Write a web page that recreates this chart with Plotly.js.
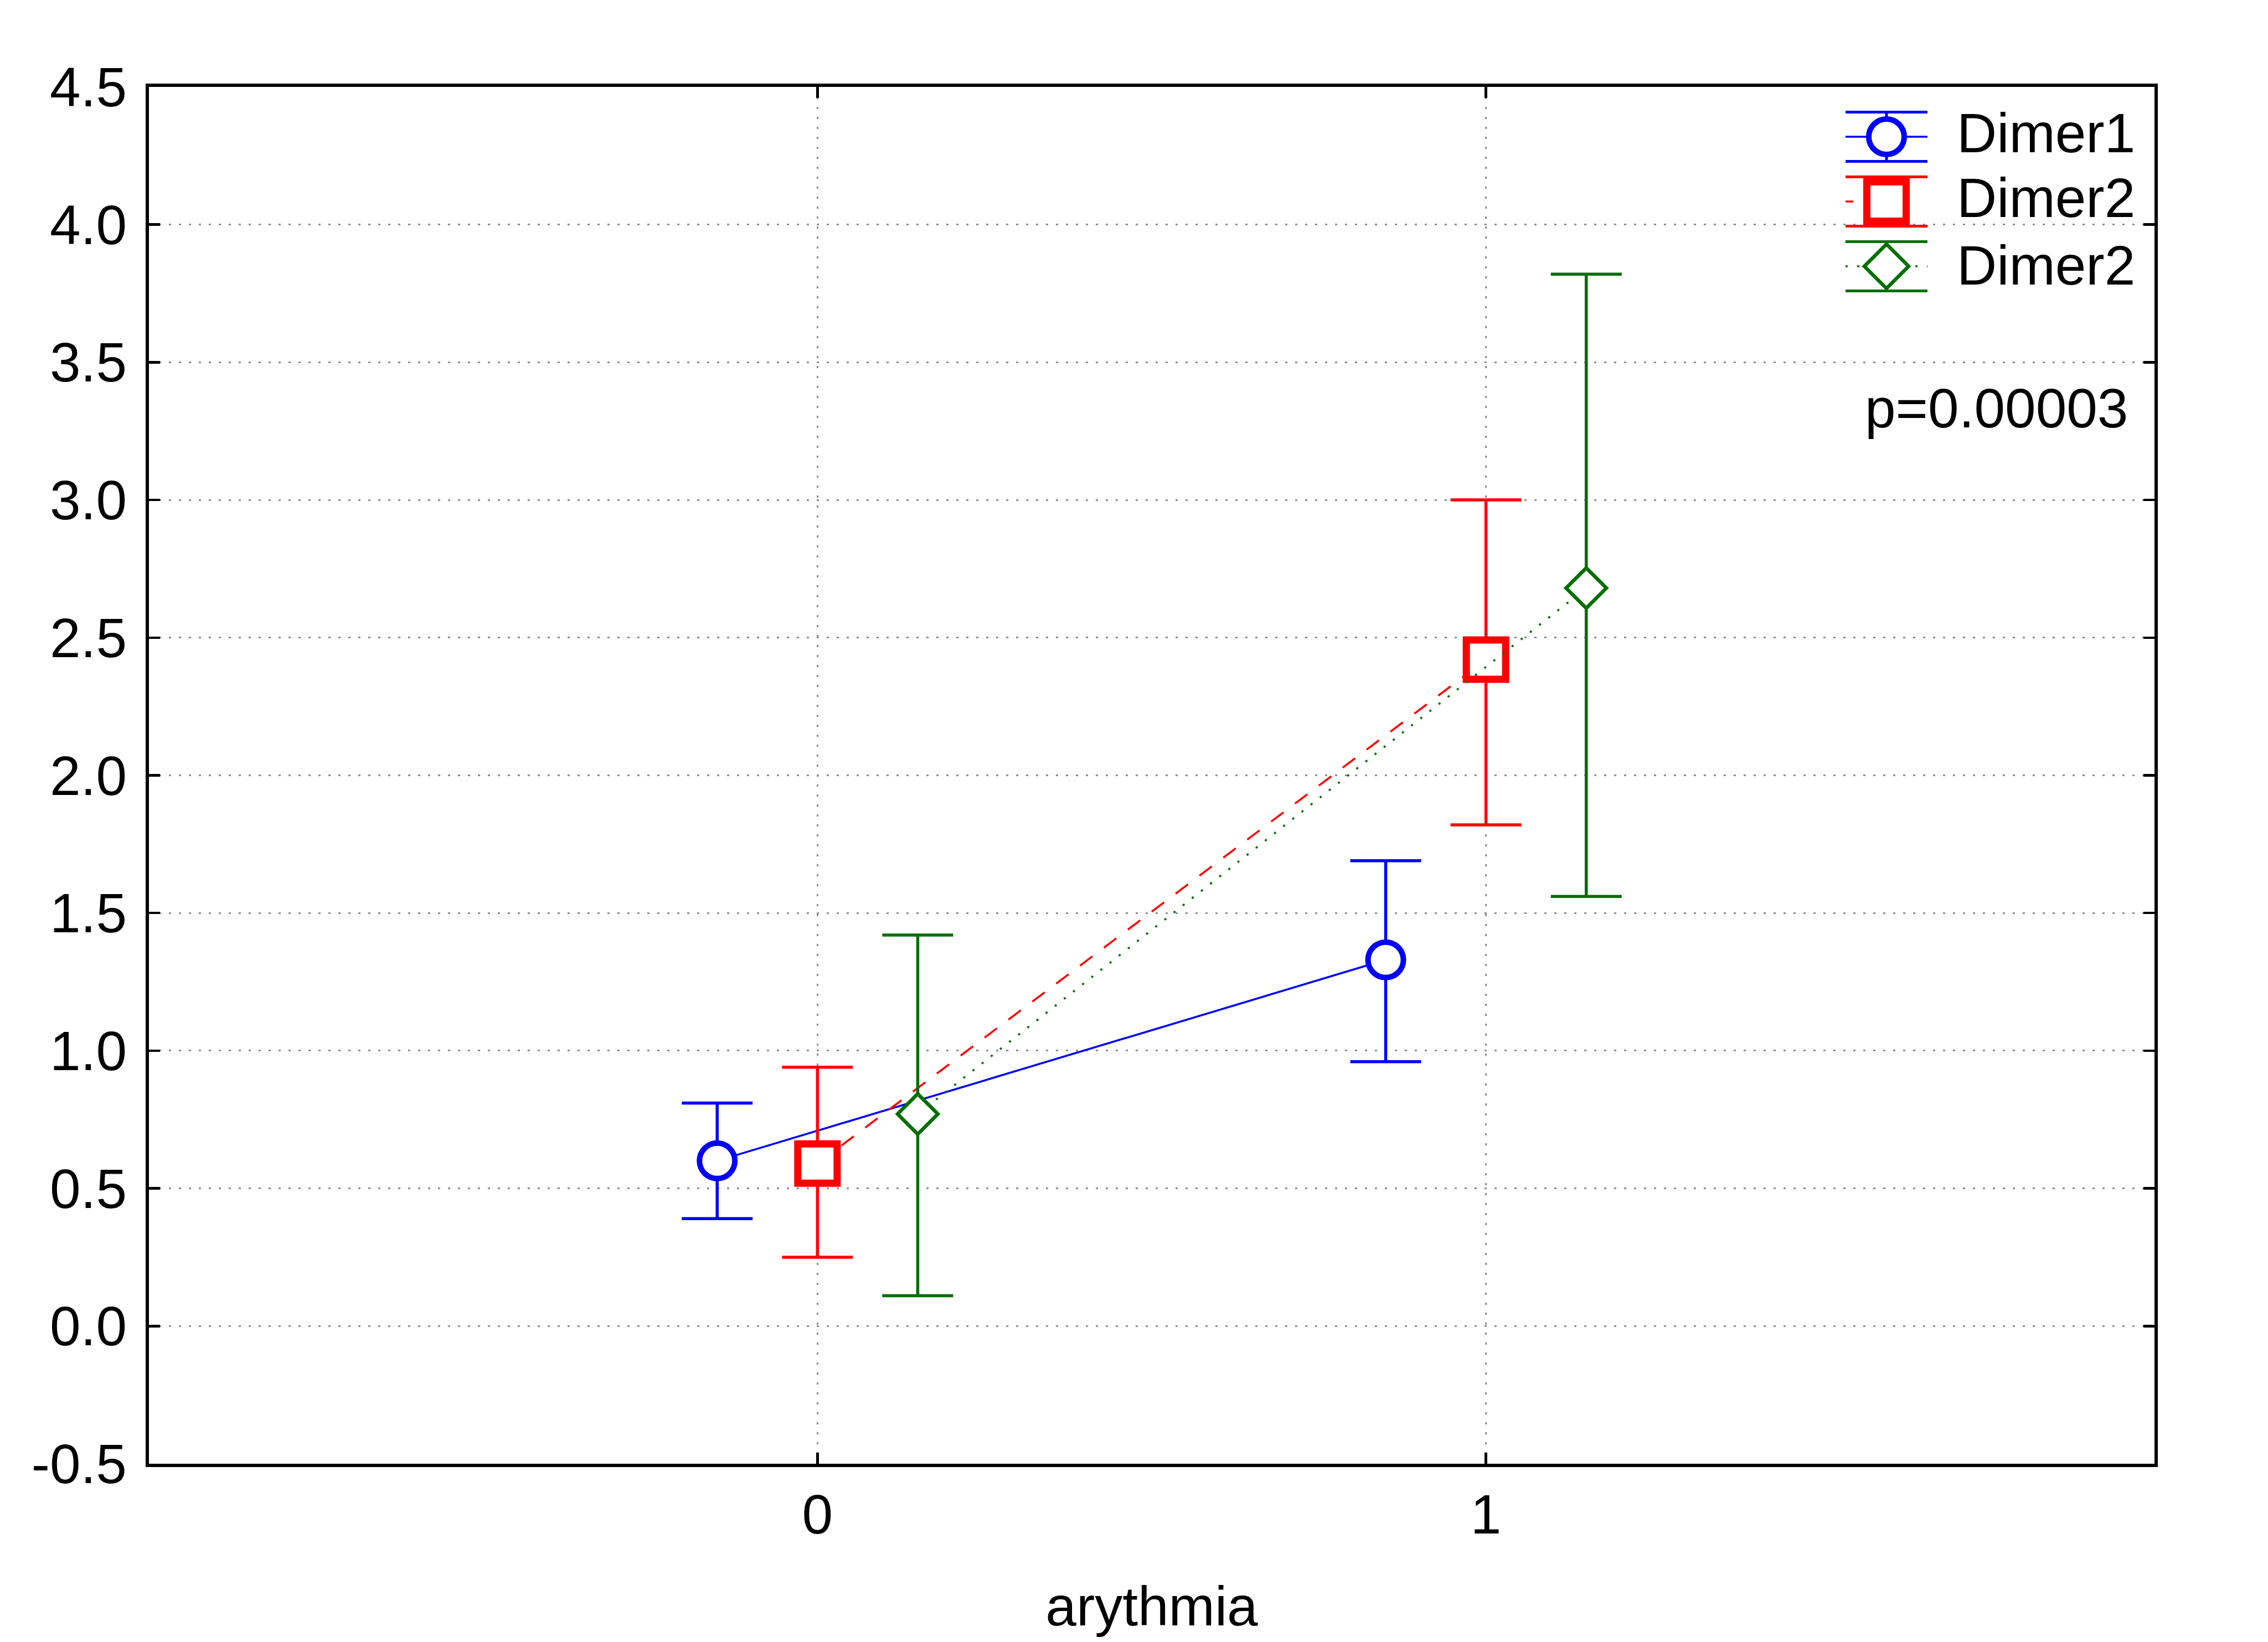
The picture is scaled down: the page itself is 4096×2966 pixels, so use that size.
<!DOCTYPE html>
<html>
<head>
<meta charset="utf-8">
<script src="https://cdn.plot.ly/plotly-3.0.1.min.js"></script>
<style>
  html, body { margin: 0; padding: 0; background: #ffffff; }
  #chart { width: 4096px; height: 2966px; }
</style>
</head>
<body>
<div id="chart"></div>
<script>
// ---------------- data ----------------
const categories = [0, 1];            // arythmia
const tickLabels = ['0', '1'];
const yTickVals   = [-0.5, 0, 0.5, 1, 1.5, 2, 2.5, 3, 3.5, 4, 4.5];
const yTickLabels = ['-0.5', '0.0', '0.5', '1.0', '1.5', '2.0', '2.5', '3.0', '3.5', '4.0', '4.5'];

const seriesNames = ['Dimer1', 'Dimer2', 'Dimer2'];

const dimer1Mean  = [0.60, 1.33];
const dimer1Upper = [0.81, 1.69];
const dimer1Lower = [0.39, 0.96];

const dimer2Mean  = [0.59, 2.42];
const dimer2Upper = [0.94, 3.00];
const dimer2Lower = [0.25, 1.82];

const dimer2bMean  = [0.77, 2.68];
const dimer2bUpper = [1.42, 3.82];
const dimer2bLower = [0.11, 1.56];

const pText = 'p=0.00003';
const xTitle = 'arythmia';

// ---------------- styles ----------------
const FONT = 'Liberation Sans, Arial, sans-serif';
const FS = 100;
const BLUE = '#0000FF', RED = '#FF0000', GREEN = '#006E00';
const GRID = '#8a8e96';

const series = [
  {name: seriesNames[0], mean: dimer1Mean, up: dimer1Upper, lo: dimer1Lower, off: -0.15,
   color: BLUE, dash: 'solid', symbol: 'circle', size: 64, mlw: 10},
  {name: seriesNames[1], mean: dimer2Mean, up: dimer2Upper, lo: dimer2Lower, off: 0,
   color: RED, dash: '28px,26px', symbol: 'square', size: 71, mlw: 13},
  {name: seriesNames[2], mean: dimer2bMean, up: dimer2bUpper, lo: dimer2bLower, off: 0.15,
   color: GREEN, dash: '4px,17px', symbol: 'diamond', size: 56, mlw: 6.5}
];

const traces = series.map(s => ({
  type: 'scatter',
  mode: 'lines+markers',
  name: s.name,
  x: categories.map(c => c + s.off),
  y: s.mean,
  line: {color: s.color, width: 3.6, dash: s.dash},
  marker: {symbol: s.symbol, size: s.size, color: '#ffffff',
           line: {color: s.color, width: s.mlw}},
  error_y: {
    type: 'data', symmetric: false,
    array: s.up.map((u, i) => u - s.mean[i]),
    arrayminus: s.lo.map((l, i) => s.mean[i] - l),
    color: s.color, thickness: 5.5, width: 64
  },
  showlegend: false,
  cliponaxis: false
}));

// ---------------- layout geometry (pixels in the 4096x2966 window) ----------------
const W = 4096, H = 2966;
const M = {l: 269, r: 205, t: 157, b: 322};
const PW = W - M.l - M.r, PH = H - M.t - M.b;
const px = X => (X - M.l) / PW;
const py = Y => 1 - (Y - M.t) / PH;

// custom legend (drawn with shapes + annotations, paper coords)
const LX0 = 3333, LX1 = 3481, LXC = 3407, CAP = 44.5;
const rows = [
  {cy: 247, ty: 240, s: series[0]},
  {cy: 364, ty: 357, s: series[1]},
  {cy: 481, ty: 479, s: series[2]}
];
const shapes = [];
const annotations = [];
rows.forEach(r => {
  const c = r.s.color;
  [r.cy - CAP, r.cy + CAP].forEach(yy => shapes.push({type: 'line', xref: 'paper', yref: 'paper',
    x0: px(LX0), x1: px(LX1), y0: py(yy), y1: py(yy), line: {color: c, width: 5}}));
  shapes.push({type: 'line', xref: 'paper', yref: 'paper',
    x0: px(LXC), x1: px(LXC), y0: py(r.cy - CAP), y1: py(r.cy + CAP), line: {color: c, width: 5}});
  shapes.push({type: 'line', xref: 'paper', yref: 'paper',
    x0: px(LX0), x1: px(LX1), y0: py(r.cy), y1: py(r.cy),
    line: {color: c, width: 3.6, dash: r.s.dash === 'solid' ? 'solid' : (r.s.symbol === 'square' ? '14px,80px' : '4px,17px')}});
  annotations.push({xref: 'paper', yref: 'paper', x: px(3532), y: py(r.ty),
    xanchor: 'left', yanchor: 'middle', showarrow: false, text: r.s.name,
    font: {family: FONT, size: FS, color: '#000'}});
});
{
  const r0 = rows[0], rad = 32;
  shapes.push({type: 'circle', xref: 'paper', yref: 'paper', fillcolor: '#fff',
    x0: px(LXC - rad), x1: px(LXC + rad), y0: py(r0.cy + rad), y1: py(r0.cy - rad),
    line: {color: BLUE, width: 10}});
  const r1 = rows[1], h1 = 35.5;
  shapes.push({type: 'rect', xref: 'paper', yref: 'paper', fillcolor: '#fff',
    x0: px(LXC - h1), x1: px(LXC + h1), y0: py(r1.cy + h1), y1: py(r1.cy - h1),
    line: {color: RED, width: 13}});
  const r2 = rows[2], d = 40;
  shapes.push({type: 'path', xref: 'paper', yref: 'paper', fillcolor: '#fff',
    path: `M ${px(LXC - d)} ${py(r2.cy)} L ${px(LXC)} ${py(r2.cy - d)} L ${px(LXC + d)} ${py(r2.cy)} L ${px(LXC)} ${py(r2.cy + d)} Z`,
    line: {color: GREEN, width: 6.5}});
}
annotations.push({xref: 'paper', yref: 'paper', x: px(3846), y: py(737),
  xanchor: 'right', yanchor: 'middle', showarrow: false, text: pText,
  font: {family: FONT, size: FS, color: '#000'}});

const axisCommon = {
  showline: true, linecolor: '#000', linewidth: 6, mirror: 'ticks',
  ticks: 'inside', ticklen: 20, tickwidth: 4.5, tickcolor: '#000',
  showgrid: true, gridcolor: GRID, gridwidth: 3, griddash: '4px,14px',
  zeroline: false, automargin: false,
  tickfont: {family: FONT, size: FS, color: '#000'}
};

const layout = {
  width: W, height: H,
  margin: M,
  paper_bgcolor: '#fff', plot_bgcolor: '#fff',
  showlegend: false,
  font: {family: FONT, size: FS, color: '#000'},
  xaxis: Object.assign({}, axisCommon, {
    range: [-1, 2], tickmode: 'array', tickvals: categories, ticktext: tickLabels,
    ticklabelstandoff: 0,
    title: {text: xTitle, font: {family: FONT, size: FS, color: '#000'}, standoff: 78}
  }),
  yaxis: Object.assign({}, axisCommon, {
    range: [-0.5, 4.5], tickmode: 'array', tickvals: yTickVals, ticktext: yTickLabels,
    ticklabelstandoff: 14
  }),
  shapes: shapes,
  annotations: annotations
};

Plotly.newPlot('chart', traces, layout, {staticPlot: true, displayModeBar: false});
</script>
</body>
</html>
